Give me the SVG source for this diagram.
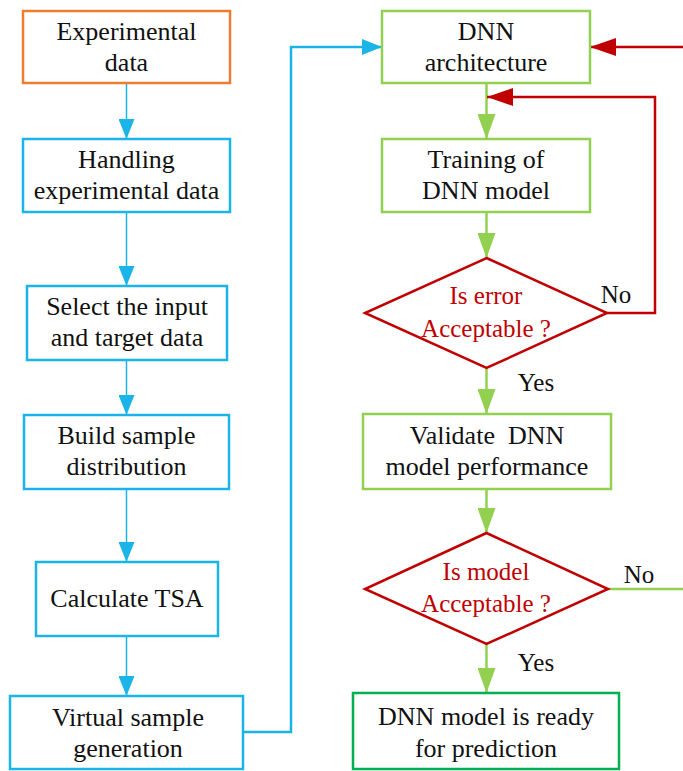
<svg xmlns="http://www.w3.org/2000/svg" width="683" height="771" viewBox="0 0 683 771" font-family="Liberation Serif, Times New Roman, serif">
<style>
text{font-size:26px;fill:#111;text-anchor:middle}
.box{fill:#fff;stroke-width:2.5}
.bl{stroke:#1AB4E8}
.or{stroke:#ED7D31}
.gr{stroke:#92D050}
.dg{stroke:#00B050}
.dia{fill:#fff;stroke:#C00000;stroke-width:2.5}
.dt{fill:#C00000;font-size:25px}
.lbl{font-size:25px}
.c{fill:none}
</style>
<defs>
<marker id="ab" markerUnits="userSpaceOnUse" markerWidth="20" markerHeight="16" refX="20" refY="8" orient="auto"><path d="M0,0 L20,8 L0,16 z" fill="#1AB4E8"/></marker>
<marker id="ag" markerUnits="userSpaceOnUse" markerWidth="25" markerHeight="18" refX="25" refY="9" orient="auto"><path d="M0,0 L25,9 L0,18 z" fill="#92D050"/></marker>
<marker id="ar" markerUnits="userSpaceOnUse" markerWidth="26" markerHeight="18" refX="26" refY="9" orient="auto"><path d="M0,0 L26,9 L0,18 z" fill="#C00000"/></marker>
</defs>

<g id="connectors" class="c">
<path d="M126.5,84 V139" stroke="#1AB4E8" stroke-width="1.5" marker-end="url(#ab)"/>
<path d="M126.5,212 V286" stroke="#1AB4E8" stroke-width="1.5" marker-end="url(#ab)"/>
<path d="M126.5,360 V415" stroke="#1AB4E8" stroke-width="1.5" marker-end="url(#ab)"/>
<path d="M126.5,489 V562" stroke="#1AB4E8" stroke-width="1.5" marker-end="url(#ab)"/>
<path d="M126.5,636 V696" stroke="#1AB4E8" stroke-width="1.5" marker-end="url(#ab)"/>
<path d="M243,732 H291 V47 H382" stroke="#1AB4E8" stroke-width="2.5" marker-end="url(#ab)"/>
<path d="M683,47 H590" stroke="#C00000" stroke-width="2.5" marker-end="url(#ar)"/>
<path d="M486.5,84 V139" stroke="#92D050" stroke-width="2.5" marker-end="url(#ag)"/>
<path d="M486.5,212 V258" stroke="#92D050" stroke-width="2.5" marker-end="url(#ag)"/>
<path d="M607,313 H655 V97 H487" stroke="#C00000" stroke-width="2.5" marker-end="url(#ar)"/>
<path d="M486.5,368 V414" stroke="#92D050" stroke-width="2.5" marker-end="url(#ag)"/>
<path d="M486.5,489 V533" stroke="#92D050" stroke-width="2.5" marker-end="url(#ag)"/>
<path d="M608,589 H683" stroke="#92D050" stroke-width="2.5"/>
<path d="M486.5,644 V693" stroke="#92D050" stroke-width="2.5" marker-end="url(#ag)"/>
<text class="lbl" x="616" y="303">No</text>
<text class="lbl" x="536" y="391">Yes</text>
<text class="lbl" x="639" y="583">No</text>
<text class="lbl" x="536" y="671">Yes</text>
</g>

<g id="experimental-data"><rect class="box or" x="23" y="11" width="207" height="72"/><text x="126.5" y="40">Experimental</text><text x="126.5" y="71">data</text></g>
<g id="handling"><rect class="box bl" x="23" y="139" width="207" height="73"/><text x="126.5" y="168">Handling</text><text x="126.5" y="199">experimental data</text></g>
<g id="select"><rect class="box bl" x="27" y="286" width="200" height="74"/><text x="127" y="315">Select the input</text><text x="127" y="346">and target data</text></g>
<g id="build"><rect class="box bl" x="24" y="415" width="205" height="74"/><text x="126.5" y="444">Build sample</text><text x="126.5" y="475">distribution</text></g>
<g id="calc"><rect class="box bl" x="36" y="562" width="182" height="74"/><text x="127" y="607">Calculate TSA</text></g>
<g id="virtual"><rect class="box bl" x="10" y="696" width="233" height="73"/><text x="128" y="726">Virtual sample</text><text x="128" y="757">generation</text></g>

<g id="dnn-arch"><rect class="box gr" x="382" y="11" width="208" height="72"/><text x="486" y="40">DNN</text><text x="486" y="71">architecture</text></g>
<g id="training"><rect class="box gr" x="382" y="139" width="208" height="73"/><text x="486" y="168">Training of</text><text x="486" y="199">DNN model</text></g>
<g id="error-check"><polygon class="dia" points="486.5,258 607,313 486.5,368 365,313"/><text class="dt" x="486" y="304">Is error</text><text class="dt" x="486" y="337">Acceptable ?</text></g>
<g id="validate"><rect class="box gr" x="363" y="414" width="248" height="75"/><text x="487" y="444" xml:space="preserve">Validate  DNN</text><text x="487" y="475">model performance</text></g>
<g id="model-check"><polygon class="dia" points="486.5,533 608,589 486.5,644 365,589"/><text class="dt" x="486" y="580">Is model</text><text class="dt" x="486" y="612">Acceptable ?</text></g>
<g id="ready"><rect class="box dg" x="353" y="693" width="266" height="76"/><text x="486" y="725">DNN model is ready</text><text x="486" y="757">for prediction</text></g>
</svg>
